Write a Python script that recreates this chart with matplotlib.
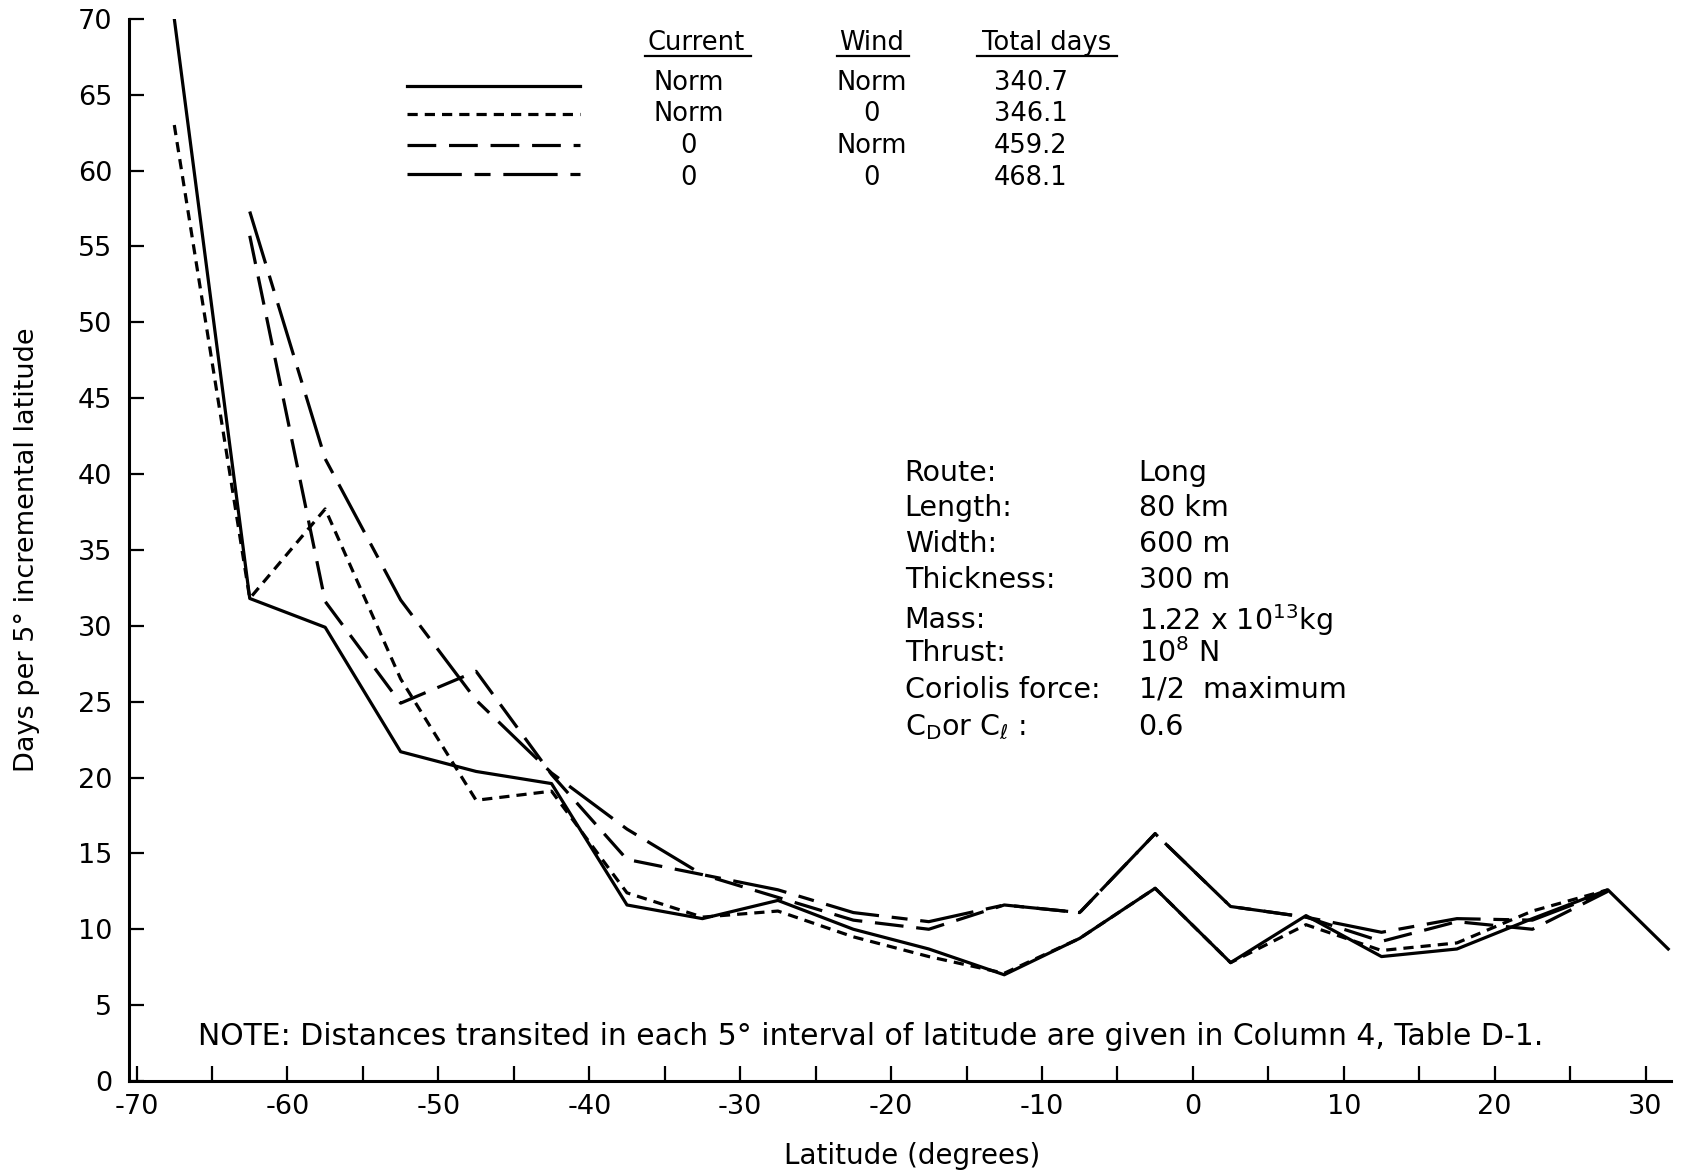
import matplotlib
matplotlib.use("Agg")
import matplotlib.pyplot as plt
import numpy as np

plt.rcParams["font.family"] = ["DejaVu Sans"]
plt.rcParams["axes.unicode_minus"] = False
plt.rcParams["mathtext.fontset"] = "dejavusans"

# ---- data ----
lat = [-67.5, -62.5, -57.5, -52.5, -47.5, -42.5, -37.5, -32.5, -27.5, -22.5,
       -17.5, -12.5, -7.5, -2.5, 2.5, 7.5, 12.5, 17.5, 22.5, 27.5, 31.5]

# Current Norm, Wind Norm
days_norm_norm = [70.0, 31.8, 29.9, 21.7, 20.4, 19.6, 11.6, 10.7, 11.9, 10.0,
                  8.7, 7.0, 9.4, 12.7, 7.8, 10.9, 8.2, 8.7, 10.7, 12.6, 8.7]
# Current Norm, Wind 0
lat_b = lat[:20]
days_norm_0 = [63.0, 31.8, 37.7, 26.5, 18.5, 19.1, 12.4, 10.8, 11.2, 9.5,
               8.2, 7.1, 9.4, 12.7, 7.8, 10.3, 8.6, 9.1, 11.2, 12.6]
# Current 0, Wind Norm
lat_c = lat[1:20]
days_0_norm = [55.7, 31.6, 24.9, 27.0, 20.2, 14.6, 13.6, 12.1, 10.6,
               10.0, 11.6, 11.1, 16.3, 11.5, 10.8, 9.2, 10.5, 10.0, 12.5]
# Current 0, Wind 0
days_0_0 = [57.3, 41.0, 31.7, 25.1, 20.3, 16.6, 13.6, 12.6, 11.1,
            10.5, 11.6, 11.1, 16.3, 11.5, 10.8, 9.8, 10.7, 10.6, 12.5]

current = ["Norm", "Norm", "0", "0"]
wind = ["Norm", "0", "Norm", "0"]
total_days = ["340.7", "346.1", "459.2", "468.1"]

params = ["Route:", "Length:", "Width:", "Thickness:", "Mass:", "Thrust:",
          "Coriolis force:", r"C$_{\mathrm{D}}$or C$_{\ell}$ :"]
values = ["Long", "80 km", "600 m", "300 m", r"1.22 x 10$^{13}$kg", r"10$^{8}$ N",
          "1/2  maximum", "0.6"]

LW = 2.3
styles = [
    dict(ls="-"),
    dict(ls=(0, (3.2, 2.2))),
    dict(ls=(0, (9, 4))),
    dict(ls=(0, (17, 4, 5, 4))),
]

fig = plt.figure(figsize=(16.91, 11.75), dpi=100)
ax = fig.add_axes([0.0763, 0.080, 0.912, 0.904])

series = [(lat, days_norm_norm), (lat_b, days_norm_0),
          (lat_c, days_0_norm), (lat_c, days_0_0)]
for (x, y), st in zip(series, styles):
    ax.plot(x, y, color="black", lw=LW, **st)

ax.set_xlim(-70.5, 31.7)
ax.set_ylim(0, 70)
ax.set_xticks(np.arange(-70, 31, 10))
ax.set_xticks(np.arange(-65, 31, 10), minor=True)
ax.set_yticks(np.arange(0, 71, 5))
ax.tick_params(axis="both", which="both", direction="in", length=11, width=1.6,
               labelsize=19.5)
ax.tick_params(axis="y", which="major", pad=12)
ax.tick_params(axis="x", which="major", pad=9)
for s in ["top", "right"]:
    ax.spines[s].set_visible(False)
for s in ["left", "bottom"]:
    ax.spines[s].set_linewidth(2.2)

ax.set_xlabel("Latitude (degrees)", fontsize=20, va="center")
ax.set_ylabel("Days per 5° incremental latitude", fontsize=19.5, va="center")
ax.xaxis.set_label_coords(0.508, -0.0706)
ax.yaxis.set_label_coords(-0.066, 0.5)

# ---- legend table ----
hdr_y = 68.4
for txt, xc, (x0, x1) in [("Current", -32.9, (-36.3, -29.3)),
                          ("Wind", -21.3, (-23.6, -18.8)),
                          ("Total days", -9.7, (-14.3, -5.0))]:
    ax.text(xc, hdr_y, txt, fontsize=18.5, ha="center", va="center")
    ax.plot([x0, x1], [67.55, 67.55], color="black", lw=1.6)

row_y = [65.8, 63.7, 61.6, 59.5]
line_y = [65.6, 63.75, 61.7, 59.8]
for i in range(4):
    ax.plot([-52.1, -40.6], [line_y[i], line_y[i]], color="black", lw=LW, **styles[i])
    ax.text(-33.4, row_y[i], current[i], fontsize=18.5, ha="center", va="center")
    ax.text(-21.3, row_y[i], wind[i], fontsize=18.5, ha="center", va="center")
    ax.text(-13.2, row_y[i], total_days[i], fontsize=18.5, ha="left", va="center")

# ---- parameter block ----
par_y = [40.1, 37.75, 35.4, 33.0, 30.4, 28.2, 25.8, 23.3]
for py, p, v in zip(par_y, params, values):
    ax.text(-19.1, py, p, fontsize=20.5, ha="left", va="center")
    ax.text(-3.6, py, v, fontsize=20.5, ha="left", va="center")

ax.text(-65.9, 2.9, "NOTE: Distances transited in each 5° interval of latitude "
        "are given in Column 4, Table D-1.", fontsize=21.5, ha="left", va="center")

fig.savefig("out.png", dpi=100)
